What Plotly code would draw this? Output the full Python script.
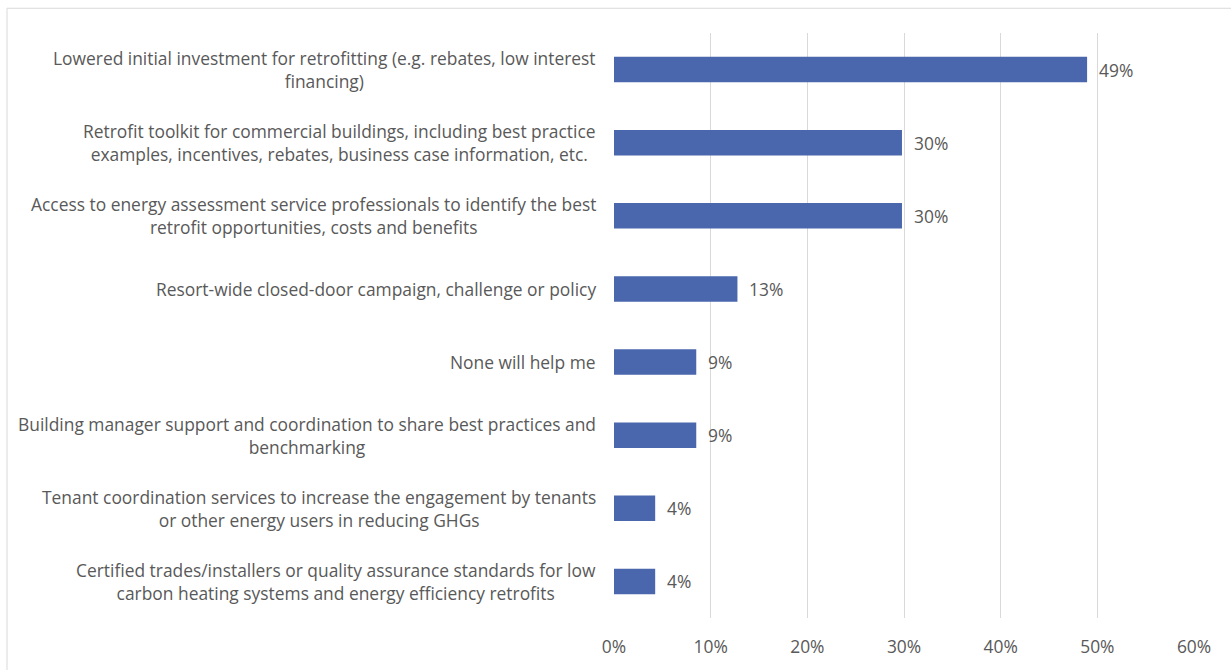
import plotly.graph_objects as go

# Survey responses: share of respondents choosing each support option
options = [
    "Lowered initial investment for retrofitting (e.g. rebates, low interest<br>financing)",
    "Retrofit toolkit for commercial buildings, including best practice<br>examples, incentives, rebates, business case information, etc.",
    "Access to energy assessment service professionals to identify the best<br>retrofit opportunities, costs and benefits",
    "Resort-wide closed-door campaign, challenge or policy",
    "None will help me",
    "Building manager support and coordination to share best practices and<br>benchmarking",
    "Tenant coordination services to increase the engagement by tenants<br>or other energy users in reducing GHGs",
    "Certified trades/installers or quality assurance standards for low<br>carbon heating systems and energy efficiency retrofits",
]
share_pct = [48.94, 29.79, 29.79, 12.77, 8.51, 8.51, 4.26, 4.26]
x_ticks = [0, 10, 20, 30, 40, 50, 60]
x_tick_labels = ["0%", "10%", "20%", "30%", "40%", "50%", "60%"]

W, H = 1231, 670
FONT = "Open Sans"
FSIZE = 17.4
TEXT_COLOR = "#595959"
BAR_COLOR = "#4A66AC"

fig = go.Figure()
fig.add_trace(go.Bar(
    x=share_pct,
    y=list(range(len(options))),
    orientation="h",
    marker=dict(color=BAR_COLOR, line=dict(width=0)),
    hoverinfo="skip",
))

annotations = []
# Category labels: right-aligned block, centred lines
for i, label in enumerate(options):
    annotations.append(dict(
        x=0, xref="paper", xanchor="right", xshift=-16,
        y=i, yref="y", yanchor="middle",
        text=label, showarrow=False, align="center",
        font=dict(family=FONT, size=FSIZE, color=TEXT_COLOR),
    ))
# Value labels next to each bar
for i, v in enumerate(share_pct):
    annotations.append(dict(
        x=v, xref="x", xanchor="left", xshift=10,
        y=i, yref="y", yanchor="middle",
        text=f"{v:.0f}%", showarrow=False,
        font=dict(family=FONT, size=FSIZE, color=TEXT_COLOR),
    ))

plot_w = W - 614 - 37
plot_h = H - 33 - 46
fig.update_layout(
    width=W, height=H,
    margin=dict(l=614, r=37, t=33, b=46),
    paper_bgcolor="white", plot_bgcolor="white",
    bargap=0.65,
    showlegend=False,
    annotations=annotations,
    shapes=[dict(
        type="rect", xref="paper", yref="paper",
        x0=(7 - 614) / plot_w, x1=1.2, y0=-0.2,
        y1=1 + (33 - 8) / plot_h,
        line=dict(color="#D9D9D9", width=1), fillcolor="rgba(0,0,0,0)",
        layer="below",
    )],
    xaxis=dict(
        range=[0, 60], tickvals=x_ticks, ticktext=x_tick_labels,
        showgrid=True, gridcolor="#D9D9D9", gridwidth=1,
        zeroline=False, showline=False, ticks="",
        tickfont=dict(family=FONT, size=FSIZE, color=TEXT_COLOR),
        ticklabelstandoff=17, fixedrange=True,
    ),
    yaxis=dict(
        range=[len(options) - 0.5, -0.5],
        showticklabels=False, showgrid=False, zeroline=False,
        showline=False, ticks="", fixedrange=True,
    ),
)

fig.write_html("out.html")
